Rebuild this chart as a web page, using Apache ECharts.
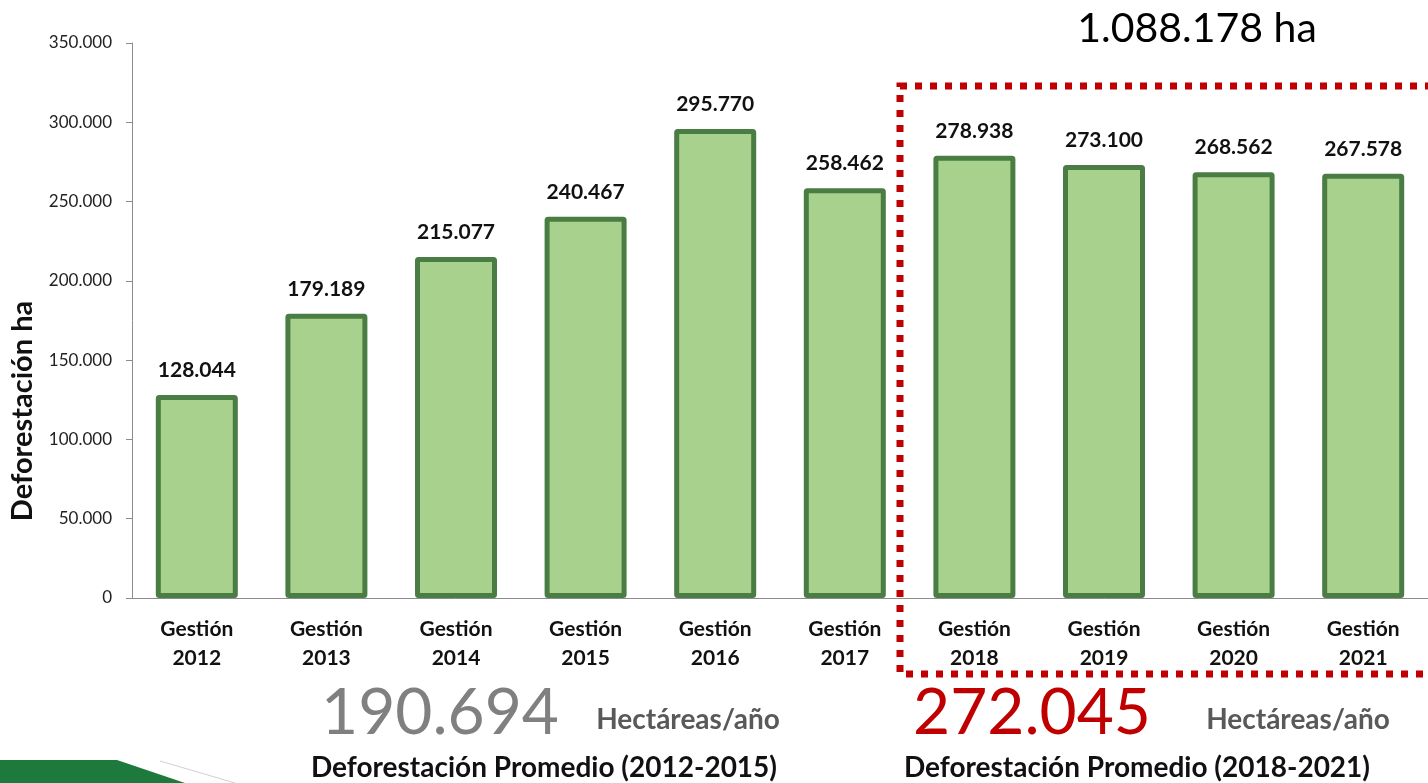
<!DOCTYPE html>
<html>
<head>
<meta charset="utf-8">
<script src="https://cdn.jsdelivr.net/npm/echarts@6/dist/echarts.min.js"></script>
<style>
  html, body { margin: 0; padding: 0; background: #fff; }
  #chart { width: 1428px; height: 783px; }
</style>
</head>
<body>
<div id="chart"></div>
<script>
const categories = ['Gestión\n2012', 'Gestión\n2013', 'Gestión\n2014', 'Gestión\n2015', 'Gestión\n2016',
  'Gestión\n2017', 'Gestión\n2018', 'Gestión\n2019', 'Gestión\n2020', 'Gestión\n2021']
const deforestation = [128044, 179189, 215077, 240467, 295770, 258462, 278938, 273100, 268562, 267578]
const yTicks = [0, 50000, 100000, 150000, 200000, 250000, 300000, 350000]

const FONT = 'Lato'
const BAR_FILL = '#a9d18e'
const BAR_EDGE = '#4a7d43'
const RED = '#c00000'

const fmt = (n) => String(n).replace(/\B(?=(\d{3})+(?!\d))/g, '.')

const chart = echarts.init(document.getElementById('chart'))

// centred text helper for the annotations around the plot
const note = (x, y, text, font, fill) => ({
  type: 'text', x, y,
  style: { text, font: font + ' ' + FONT, fill, textAlign: 'center', textVerticalAlign: 'middle' }
})

chart.setOption({
  animation: false,
  textStyle: { fontFamily: FONT },
  grid: { left: 132, top: 43, width: 1300, height: 555 },
  xAxis: {
    type: 'category',
    data: categories,
    axisLine: { lineStyle: { color: '#8c8c8c', width: 1 } },
    axisTick: { length: 7, lineStyle: { color: '#8c8c8c' } },
    axisLabel: {
      interval: 0, margin: 17, fontSize: 21, fontWeight: 'bold',
      color: '#111', lineHeight: 29, fontFamily: FONT
    }
  },
  yAxis: {
    type: 'value',
    min: yTicks[0],
    max: yTicks[yTicks.length - 1],
    interval: yTicks[1] - yTicks[0],
    splitLine: { show: false },
    axisLine: { show: true, lineStyle: { color: '#8c8c8c', width: 1 } },
    axisTick: { show: true, length: 6, lineStyle: { color: '#8c8c8c' } },
    axisLabel: { fontSize: 17, color: '#222', margin: 20, formatter: (v) => fmt(v), fontFamily: FONT }
  },
  series: [{
    type: 'bar',
    data: deforestation,
    barWidth: 82,
    itemStyle: { color: BAR_FILL, borderColor: BAR_EDGE, borderWidth: 5, borderRadius: 1 },
    label: {
      show: true, position: 'top', distance: 14,
      fontSize: 21, fontWeight: 'bold', color: '#111', fontFamily: FONT,
      formatter: (p) => fmt(p.value)
    }
  }],
  graphic: [
    {
      type: 'text', x: 23, y: 411, rotation: Math.PI / 2,
      style: { text: 'Deforestación ha', font: 'bold 29px ' + FONT, fill: '#111', textAlign: 'center', textVerticalAlign: 'middle' }
    },
    {
      type: 'rect',
      shape: { x: 900, y: 86, width: 560, height: 588 },
      style: { fill: 'none', stroke: RED, lineWidth: 7, lineDash: [7, 8] },
      z: 10
    },
    note(1197, 29, '1.088.178 ha', '41px', '#000'),
    note(440, 713, '190.694', '64px', '#808080'),
    note(688, 720, 'Hectáreas/año', 'bold 28px', '#595959'),
    note(544, 768, 'Deforestación Promedio (2012-2015)', 'bold 28px', '#111'),
    note(1032, 713, '272.045', '64px', RED),
    note(1298, 720, 'Hectáreas/año', 'bold 28px', '#595959'),
    note(1137, 768, 'Deforestación Promedio (2018-2021)', 'bold 28px', '#111'),
    {
      type: 'polygon',
      shape: { points: [[0, 760], [117, 760], [185, 783], [0, 783]] },
      style: { fill: '#1e7a3c' }
    },
    {
      type: 'polyline',
      shape: { points: [[160, 761], [235, 783]] },
      style: { stroke: '#d0d0d0', lineWidth: 1 }
    }
  ]
})
</script>
</body>
</html>
